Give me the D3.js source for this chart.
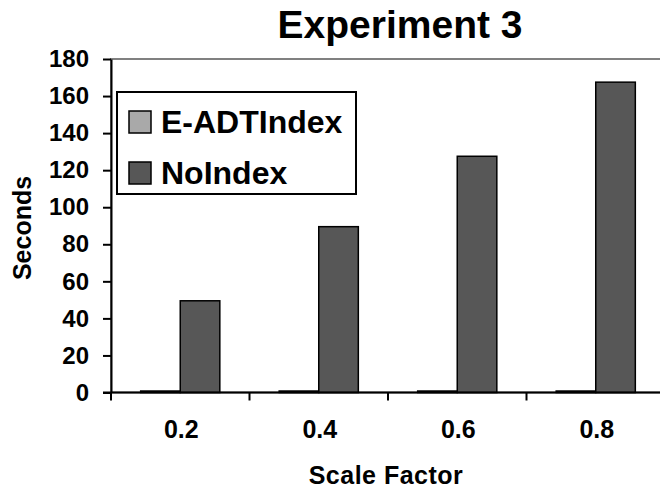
<!DOCTYPE html>
<html>
<head>
<meta charset="utf-8">
<script src="https://cdn.jsdelivr.net/npm/d3@7"></script>
<style>
  body { margin: 0; background: #fff; }
  text { font-family: "Liberation Sans", Arial, sans-serif; font-weight: bold; fill: #000; }
</style>
</head>
<body>
<div id="chart"></div>
<script>
var categories = ["0.2", "0.4", "0.6", "0.8"]
var series = ["E-ADTIndex", "NoIndex"]
var eadtIndex = [0.8, 0.8, 0.8, 0.8]
var noIndex = [49.5, 89.5, 127.5, 167.5]
var yTicks = [0, 20, 40, 60, 80, 100, 120, 140, 160, 180]
var colors = ["#a9a9a9", "#575757"]

var width = 660, height = 490
var plot = { left: 111, right: 665, top: 59, bottom: 392.5 }

var svg = d3.select("#chart").append("svg")
  .attr("width", width)
  .attr("height", height)

var x = d3.scaleBand()
  .domain(categories)
  .range([plot.left, plot.right])

var x1 = d3.scaleBand()
  .domain(series)
  .range([0, x.bandwidth()])
  .paddingOuter(0.75)

var y = d3.scaleLinear()
  .domain([0, 180])
  .range([plot.bottom, plot.top])

// plot area border (grey, Excel style)
svg.append("rect")
  .attr("x", plot.left)
  .attr("y", plot.top)
  .attr("width", plot.right - plot.left)
  .attr("height", plot.bottom - plot.top)
  .attr("fill", "none")
  .attr("stroke", "#808080")
  .attr("stroke-width", 2)

var rows = categories.map(function(c, i) {
  return { cat: c, values: [eadtIndex[i], noIndex[i]] }
})

svg.append("g").selectAll("g")
  .data(rows)
  .join("g")
  .attr("transform", function(d) { return "translate(" + x(d.cat) + ",0)" })
  .selectAll("rect")
  .data(function(d) { return d.values.map(function(v, j) { return { s: series[j], v: v, j: j } }) })
  .join("rect")
  .attr("x", function(d) { return x1(d.s) })
  .attr("y", function(d) { return y(d.v) })
  .attr("width", x1.bandwidth())
  .attr("height", function(d) { return y(0) - y(d.v) })
  .attr("fill", function(d) { return colors[d.j] })
  .attr("stroke", "#000")
  .attr("stroke-width", 1.5)

// y axis
var yAxis = svg.append("g")
  .attr("transform", "translate(" + plot.left + ",0)")
  .call(d3.axisLeft(y).tickValues(yTicks).tickSize(8).tickPadding(14).tickSizeOuter(0))
yAxis.select(".domain").attr("stroke", "#000").attr("stroke-width", 2)
yAxis.selectAll(".tick line").attr("stroke", "#000").attr("stroke-width", 2)
yAxis.selectAll(".tick text").style("font-size", "24px")

// x axis: labels centred, ticks between categories
var xAxis = svg.append("g")
  .attr("transform", "translate(0," + plot.bottom + ")")
  .call(d3.axisBottom(x).tickSize(0).tickPadding(23).tickSizeOuter(0))
xAxis.select(".domain").attr("stroke", "#000").attr("stroke-width", 2)
  .attr("d", "M" + (plot.left - 8) + ",0H" + plot.right)
xAxis.selectAll(".tick text").style("font-size", "25px").attr("dy", "0.9em")
  .attr("x", 1)

var bounds = categories.map(function(c) { return x(c) }).concat([plot.right])
xAxis.selectAll(".bound")
  .data(bounds)
  .join("line")
  .attr("class", "bound")
  .attr("x1", function(d) { return d })
  .attr("x2", function(d) { return d })
  .attr("y1", 0)
  .attr("y2", 8)
  .attr("stroke", "#000")
  .attr("stroke-width", 2)

// titles
svg.append("text")
  .attr("x", 400)
  .attr("y", 38)
  .attr("text-anchor", "middle")
  .style("font-size", "39px")
  .text("Experiment 3")

svg.append("text")
  .attr("x", 386)
  .attr("y", 484)
  .attr("text-anchor", "middle")
  .style("font-size", "25px")
  .style("letter-spacing", "0.5px")
  .text("Scale Factor")

svg.append("text")
  .attr("transform", "translate(31,228) rotate(-90)")
  .attr("text-anchor", "middle")
  .style("font-size", "25px")
  .text("Seconds")

// legend
var legend = svg.append("g")
legend.append("rect")
  .attr("x", 117)
  .attr("y", 92)
  .attr("width", 239)
  .attr("height", 102)
  .attr("fill", "#fff")
  .attr("stroke", "#000")
  .attr("stroke-width", 2)

var item = legend.selectAll(".item")
  .data(series)
  .join("g")
  .attr("class", "item")
  .attr("transform", function(d, i) { return "translate(129," + (111 + i * 51) + ")" })
item.append("rect")
  .attr("width", 22)
  .attr("height", 22)
  .attr("fill", function(d, i) { return colors[i] })
  .attr("stroke", "#000")
  .attr("stroke-width", 1.5)
item.append("text")
  .attr("x", 32)
  .attr("y", 22)
  .style("font-size", "32px")
  .text(function(d) { return d })
</script>
</body>
</html>
